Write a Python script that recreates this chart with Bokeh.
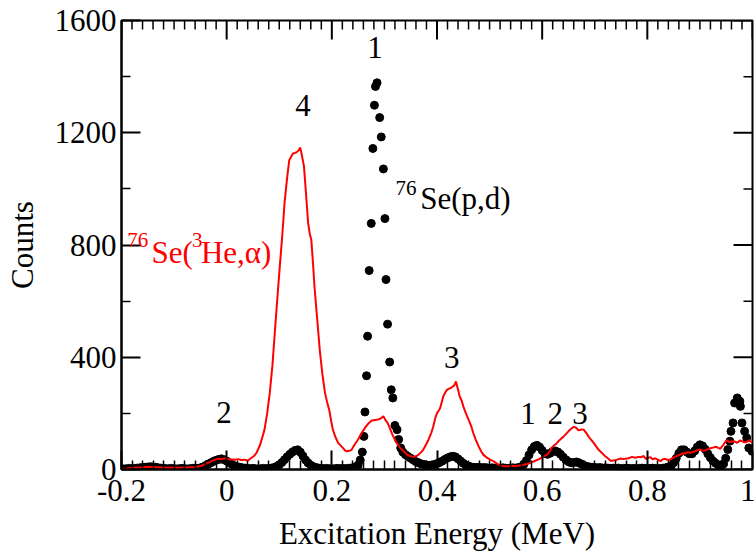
from bokeh.plotting import figure
from bokeh.models import Range1d, FixedTicker, Label, ColumnDataSource
from bokeh.embed import file_html
from bokeh.resources import INLINE

# 76Se(p,d) spectrum: excitation energy (MeV) and counts per channel
pd_energy = [
    -0.200, -0.195, -0.190, -0.185, -0.180, -0.175, -0.170, -0.165, -0.160, -0.155,
    -0.150, -0.145, -0.140, -0.135, -0.130, -0.125, -0.120, -0.115, -0.110, -0.105,
    -0.100, -0.095, -0.090, -0.085, -0.080, -0.075, -0.070, -0.065, -0.060, -0.055,
    -0.050, -0.045,
    -0.040, -0.035, -0.030, -0.025, -0.020, -0.015, -0.010, -0.005, 0.000, 0.005,
    0.010, 0.015, 0.020, 0.025, 0.030, 0.035, 0.040,
    0.045, 0.050, 0.055, 0.060, 0.065, 0.070, 0.075, 0.080, 0.085, 0.090,
    0.095, 0.100, 0.105, 0.110, 0.115, 0.120, 0.125, 0.130, 0.135, 0.140,
    0.145, 0.150, 0.155, 0.160, 0.165, 0.170, 0.175,
    0.180, 0.185, 0.190, 0.195, 0.200, 0.205, 0.210, 0.215, 0.220, 0.225,
    0.230, 0.235, 0.240, 0.245,
    0.250, 0.254, 0.258, 0.261, 0.263, 0.266, 0.268, 0.271, 0.275, 0.278,
    0.281, 0.283, 0.286, 0.291, 0.294, 0.298, 0.301, 0.303, 0.306, 0.310,
    0.313, 0.316, 0.320, 0.324, 0.327, 0.331,
    0.335, 0.340, 0.345, 0.350, 0.355, 0.360, 0.365, 0.370, 0.375, 0.380,
    0.385, 0.390, 0.395, 0.400, 0.405, 0.410, 0.415, 0.420, 0.425, 0.430,
    0.435, 0.440, 0.445, 0.450, 0.455, 0.460, 0.465,
    0.470, 0.475, 0.480, 0.485, 0.490, 0.495, 0.500, 0.505, 0.510, 0.515,
    0.520, 0.525, 0.530, 0.535, 0.540, 0.545, 0.550, 0.555, 0.560,
    0.565, 0.570, 0.575, 0.580, 0.585, 0.590, 0.595, 0.600, 0.605, 0.610,
    0.615, 0.620, 0.625, 0.630, 0.635, 0.640, 0.645, 0.650, 0.655, 0.660,
    0.665, 0.670, 0.675, 0.680, 0.685, 0.690, 0.695,
    0.700, 0.705, 0.710, 0.715, 0.720, 0.725, 0.730, 0.735, 0.740, 0.745,
    0.750, 0.755, 0.760, 0.765, 0.770, 0.775, 0.780, 0.785, 0.790, 0.795,
    0.800, 0.805, 0.810, 0.815, 0.820, 0.825, 0.830, 0.835, 0.840,
    0.845, 0.850, 0.855, 0.860, 0.865, 0.870, 0.875, 0.880, 0.885, 0.890,
    0.895, 0.900, 0.905, 0.910, 0.915, 0.920, 0.925, 0.930, 0.935, 0.940,
    0.945,
    0.949, 0.953, 0.957, 0.959, 0.963, 0.966, 0.971, 0.976, 0.977, 0.980,
    0.985, 0.989, 0.993, 0.999,
]
pd_counts = [
    3, 2, 3, 4, 3, 4, 5, 6, 7, 8,
    9, 10, 9, 8, 6, 5, 4, 3, 3, 4,
    3, 2, 3, 4, 3, 2, 3, 4, 5, 4,
    6, 9,
    14, 19, 24, 29, 33, 36, 38, 35, 30, 24,
    18, 13, 10, 8, 6, 5, 4,
    3, 4, 3, 2, 3, 4, 3, 4, 5, 7,
    11, 17, 25, 35, 45, 54, 62, 68, 70, 62,
    48, 34, 23, 15, 10, 7, 5,
    4, 3, 4, 3, 2, 3, 4, 3, 4, 3,
    4, 5, 6, 9,
    16, 34, 62, 118, 205, 334, 475, 709, 877, 1144,
    1298, 1365, 1378, 1254, 1185, 1071, 894, 677, 518, 383,
    284, 255, 157, 142, 107, 77,
    62, 53, 46, 40, 34, 28, 24, 20, 18, 16,
    15, 16, 18, 21, 25, 30, 36, 41, 45, 47,
    45, 38, 30, 22, 16, 12, 9,
    8, 7, 8, 6, 7, 6, 5, 6, 5, 4,
    5, 6, 5, 4, 5, 6, 5, 7, 10,
    18, 32, 52, 70, 82, 86, 80, 68, 57, 54,
    58, 64, 66, 62, 54, 44, 35, 28, 24, 25,
    27, 24, 19, 14, 11, 9, 8,
    7, 6, 7, 5, 6, 5, 4, 5, 4, 5,
    3, 4, 5, 4, 3, 4, 3, 4, 5, 4,
    3, 4, 5, 4, 3, 4, 5, 6, 9,
    12, 24, 40, 58, 70, 70, 62, 56, 56, 66,
    80, 88, 84, 72, 56, 42, 30, 22, 16, 14,
    20,
    40, 71, 101, 136, 166, 237, 255, 243, 225, 166,
    136, 113, 77, 65,
]

# 76Se(3He,alpha) spectrum, drawn as a line
he_energy = [
    -0.200, -0.190, -0.180, -0.170, -0.160, -0.150, -0.140, -0.130, -0.120, -0.110,
    -0.100, -0.090, -0.080, -0.070, -0.060, -0.050, -0.042, -0.035, -0.029, -0.022,
    -0.017, -0.010, -0.004, 0.002, 0.009, 0.016, 0.022, 0.028, 0.034, 0.040,
    0.046, 0.052, 0.057, 0.064, 0.072, 0.077, 0.082, 0.087, 0.091, 0.096,
    0.101, 0.106, 0.110, 0.115, 0.119, 0.126, 0.130, 0.134, 0.137, 0.140,
    0.143, 0.147, 0.151, 0.155, 0.158, 0.161, 0.164, 0.167, 0.172, 0.177,
    0.182, 0.187, 0.191, 0.195, 0.199, 0.202, 0.207, 0.212, 0.217, 0.221,
    0.225, 0.228, 0.233, 0.237, 0.243, 0.250, 0.256, 0.263, 0.270, 0.276,
    0.282, 0.288, 0.293, 0.298, 0.302, 0.306, 0.310, 0.315, 0.320, 0.325,
    0.330, 0.337, 0.343, 0.349, 0.355, 0.360, 0.365, 0.370, 0.374, 0.379,
    0.384, 0.389, 0.393, 0.397, 0.400, 0.404, 0.406, 0.409, 0.412, 0.416,
    0.419, 0.423, 0.426, 0.430, 0.433, 0.436, 0.440, 0.443, 0.447, 0.450,
    0.455, 0.460, 0.465, 0.469, 0.474, 0.479, 0.484, 0.488, 0.495, 0.501,
    0.507, 0.515, 0.520, 0.526, 0.535, 0.543, 0.551, 0.557, 0.564, 0.572,
    0.580, 0.588, 0.595, 0.602, 0.608, 0.612, 0.615, 0.618, 0.622, 0.627,
    0.631, 0.636, 0.641, 0.645, 0.650, 0.655, 0.660, 0.663, 0.666, 0.669,
    0.672, 0.676, 0.679, 0.684, 0.688, 0.693, 0.698, 0.702, 0.707, 0.713,
    0.720, 0.726, 0.731, 0.735, 0.739, 0.744, 0.749, 0.754, 0.758, 0.764,
    0.771, 0.777, 0.783, 0.788, 0.793, 0.797, 0.801, 0.806, 0.810, 0.815,
    0.820, 0.825, 0.830, 0.834, 0.839, 0.844, 0.849, 0.853, 0.858, 0.863,
    0.868, 0.872, 0.877, 0.882, 0.887, 0.891, 0.896, 0.901, 0.905, 0.910,
    0.915, 0.920, 0.925, 0.930, 0.935, 0.939, 0.942, 0.945, 0.949, 0.952,
    0.955, 0.958, 0.961, 0.964, 0.968, 0.971, 0.974, 0.977, 0.981, 0.984,
    0.987, 0.991, 0.994, 0.997, 1.000,
]
he_counts = [
    3, 4, 6, 7, 8, 10, 9, 8, 7, 6,
    7, 6, 7, 8, 9, 12, 18, 24, 30, 35,
    38, 37, 40, 37, 36, 35, 37, 34, 35, 31,
    40, 48, 60, 90, 142, 200, 273, 370, 474, 600,
    723, 840, 948, 1040, 1102, 1126, 1128, 1132, 1138, 1147,
    1120, 1081, 980, 877, 840, 818, 740, 652, 540, 427,
    340, 273, 240, 213, 170, 142, 115, 95, 85, 77,
    68, 65, 67, 69, 88, 107, 128, 148, 165, 175,
    176, 178, 182, 190, 176, 166, 148, 125, 107, 90,
    77, 64, 53, 48, 45, 47, 53, 62, 71, 88,
    107, 130, 154, 185, 201, 212, 219, 240, 261, 275,
    284, 288, 290, 296, 300, 314, 285, 261, 245, 225,
    200, 178, 155, 130, 105, 83, 65, 53, 42, 35,
    30, 20, 14, 12, 12, 13, 12, 14, 16, 20,
    26, 32, 38, 46, 52, 58, 66, 78, 85, 92,
    101, 110, 118, 126, 136, 145, 152, 150, 146, 140,
    141, 143, 142, 130, 118, 106, 95, 84, 71, 60,
    47, 38, 30, 32, 33, 36, 39, 37, 38, 40,
    45, 42, 45, 44, 48, 38, 42, 44, 36, 40,
    35, 30, 37, 38, 34, 36, 42, 45, 50, 53,
    58, 57, 62, 59, 63, 65, 70, 71, 67, 68,
    73, 76, 78, 81, 77, 74, 82, 89, 100, 104,
    99, 97, 100, 101, 98, 95, 100, 104, 100, 97,
    97, 101, 104, 99, 95,
]

x_ticks = [-0.2, 0.0, 0.2, 0.4, 0.6, 0.8, 1.0]
x_tick_labels = ["-0.2", "0", "0.2", "0.4", "0.6", "0.8", "1"]
y_ticks = [0, 400, 800, 1200, 1600]
y_minor = [200, 600, 1000, 1400]
x_minor = [round(-0.2 + 0.02 * i, 2) for i in range(61)]
x_minor = [t for t in x_minor if all(abs(t - m) > 1e-9 for m in x_ticks)]

peak_names = ["1", "4", "2", "3", "1", "2", "3"]
peak_pos = [(0.282, 1505), (0.145, 1298), (-0.005, 203), (0.428, 400),
            (0.573, 198), (0.625, 198), (0.672, 198)]

FONT = "Liberation Serif"
FS = "31px"

X_LO, X_HI, Y_LO, Y_HI = -0.2, 1.0, 0, 1600
W, H = 755, 553
B_LEFT, B_RIGHT, B_TOP, B_BOTTOM = 121, 3, 20, 83
MAJ, MIN = 19, 9

p = figure(width=W, height=H, output_backend="svg", toolbar_location=None,
           x_range=Range1d(X_LO, X_HI), y_range=Range1d(Y_LO, Y_HI),
           min_border_left=B_LEFT, min_border_right=B_RIGHT,
           min_border_top=B_TOP, min_border_bottom=B_BOTTOM)
p.xgrid.visible = False
p.ygrid.visible = False
p.outline_line_color = "black"
p.outline_line_width = 2

for ax in (p.xaxis[0], p.yaxis[0]):
    ax.axis_line_color = "black"
    ax.axis_line_width = 2
    ax.major_tick_line_color = "black"
    ax.major_tick_line_width = 2
    ax.minor_tick_line_color = "black"
    ax.minor_tick_line_width = 1.5
    ax.major_tick_in = MAJ
    ax.major_tick_out = 0
    ax.minor_tick_in = MIN
    ax.minor_tick_out = 0
    ax.major_label_text_font = FONT
    ax.major_label_text_font_size = FS
    ax.major_label_text_color = "black"
    ax.axis_label_text_font = FONT
    ax.axis_label_text_font_size = FS
    ax.axis_label_text_font_style = "normal"
    ax.axis_label_text_color = "black"

xa = p.xaxis[0]
xa.ticker = FixedTicker(ticks=x_ticks, minor_ticks=x_minor)
xa.major_label_overrides = {t: s for t, s in zip(x_ticks, x_tick_labels)}
xa.axis_label = "Excitation Energy (MeV)"
xa.major_label_standoff = 10
xa.axis_label_standoff = 12

ya = p.yaxis[0]
ya.ticker = FixedTicker(ticks=y_ticks, minor_ticks=y_minor)
ya.axis_label = "Counts"
ya.major_label_standoff = 5
ya.axis_label_standoff = 12

# mirrored inward ticks along the top and right edges of the frame
frame_w = W - B_LEFT - B_RIGHT
frame_h = H - B_TOP - B_BOTTOM
ux = (X_HI - X_LO) / frame_w
uy = (Y_HI - Y_LO) / frame_h


def mirror_ticks(xt, yt, length):
    xs0 = list(xt) + [X_HI] * len(yt)
    xs1 = list(xt) + [X_HI - length * ux] * len(yt)
    ys0 = [Y_HI] * len(xt) + list(yt)
    ys1 = [Y_HI - length * uy] * len(xt) + list(yt)
    return ColumnDataSource(dict(x0=xs0, y0=ys0, x1=xs1, y1=ys1))


p.segment(source=mirror_ticks(x_ticks, y_ticks, MAJ), x0="x0", y0="y0",
          x1="x1", y1="y1", line_color="black", line_width=2)
p.segment(source=mirror_ticks(x_minor, y_minor, MIN), x0="x0", y0="y0",
          x1="x1", y1="y1", line_color="black", line_width=1.5)

# data
p.scatter(pd_energy, pd_counts, size=8, color="black", line_color="black")
p.line(he_energy, he_counts, line_color="#ff0000", line_width=2)

# level labels
for name, (ex, cy) in zip(peak_names, peak_pos):
    p.add_layout(Label(x=ex, y=cy, text=name, text_font=FONT, text_font_size=FS,
                       text_align="center", text_baseline="middle",
                       text_color="black"))

# reaction labels with raised mass numbers
SUP = "21px"
p.add_layout(Label(x=0.321, y=1003, text="76", text_font=FONT, text_font_size=SUP,
                   text_align="left", text_baseline="alphabetic", text_color="black"))
p.add_layout(Label(x=0.368, y=967, text="Se(p,d)", text_font=FONT, text_font_size=FS,
                   text_align="left", text_baseline="alphabetic", text_color="black"))

red = "#ff0000"
p.add_layout(Label(x=-0.189, y=818, text="76", text_font=FONT, text_font_size=SUP,
                   text_align="left", text_baseline="alphabetic", text_color=red))
p.add_layout(Label(x=-0.143, y=772, text="Se(", text_font=FONT, text_font_size=FS,
                   text_align="left", text_baseline="alphabetic", text_color=red))
p.add_layout(Label(x=-0.066, y=818, text="3", text_font=FONT, text_font_size=SUP,
                   text_align="left", text_baseline="alphabetic", text_color=red))
p.add_layout(Label(x=-0.049, y=772, text="He,\u03b1)", text_font=FONT, text_font_size=FS,
                   text_align="left", text_baseline="alphabetic", text_color=red))

open("out.html", "w").write(file_html(p, INLINE))
